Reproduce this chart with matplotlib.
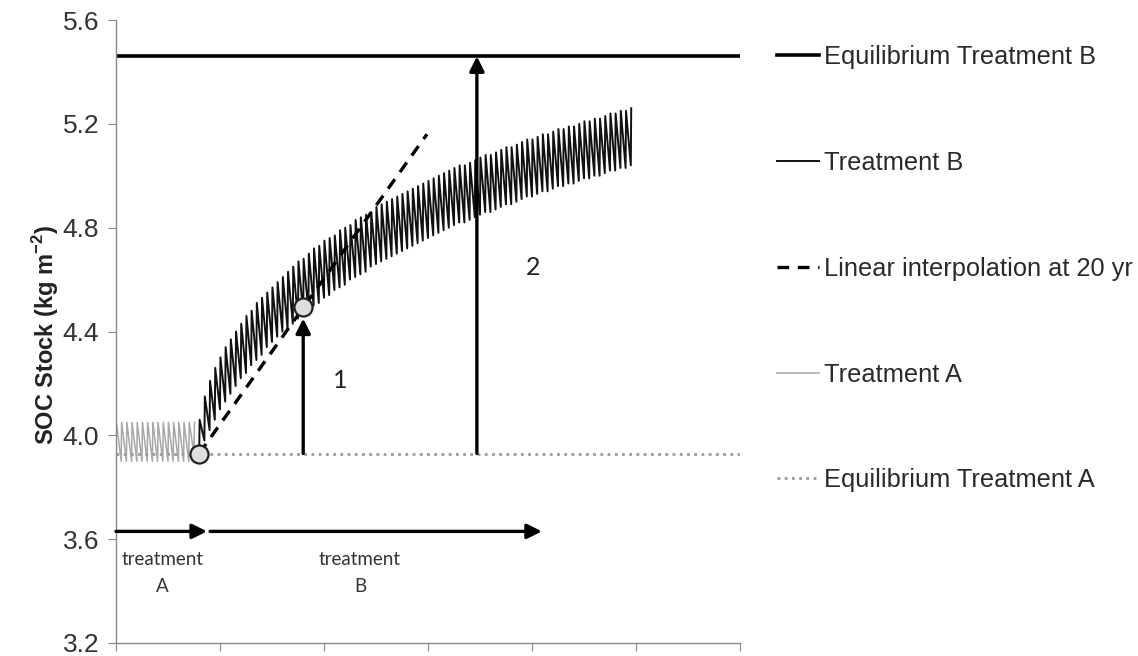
import numpy as np
import matplotlib.pyplot as plt

plt.rcParams["font.family"] = ["Liberation Sans", "DejaVu Sans"]
plt.rcParams["mathtext.fontset"] = "custom"
plt.rcParams["mathtext.bf"] = "Liberation Sans:bold"
plt.rcParams["mathtext.rm"] = "Liberation Sans"

# Treatment A: annual peaks / troughs (years 0..15)
years_a = np.arange(0, 16)
trt_a_peak = [4.05, 4.05, 4.05, 4.05, 4.05, 4.05, 4.05, 4.05,
              4.05, 4.05, 4.05, 4.05, 4.05, 4.05, 4.05, 4.05]
trt_a_trough = [3.90, 3.90, 3.90, 3.90, 3.90, 3.90, 3.90, 3.90,
                3.90, 3.90, 3.90, 3.90, 3.90, 3.90, 3.90, 3.93]

# Treatment B: annual peaks / troughs (years 16..99)
years_b = np.arange(16, 100)
trt_b_peak = [
    4.06, 4.15, 4.21, 4.26, 4.30, 4.34, 4.37, 4.40, 4.43, 4.46,
    4.48, 4.51, 4.53, 4.55, 4.57, 4.59, 4.61, 4.63, 4.65, 4.67,
    4.68, 4.70, 4.72, 4.73, 4.75, 4.76, 4.77, 4.79, 4.80, 4.81,
    4.83, 4.84, 4.85, 4.86, 4.88, 4.89, 4.90, 4.91, 4.92, 4.93,
    4.94, 4.95, 4.96, 4.97, 4.98, 4.99, 5.00, 5.01, 5.02, 5.03,
    5.04, 5.04, 5.05, 5.06, 5.07, 5.08, 5.08, 5.09, 5.10, 5.11,
    5.11, 5.12, 5.13, 5.14, 5.14, 5.15, 5.16, 5.16, 5.17, 5.18,
    5.18, 5.19, 5.19, 5.20, 5.21, 5.21, 5.22, 5.22, 5.23, 5.24,
    5.24, 5.25, 5.25, 5.26,
]
trt_b_trough = [
    3.93, 3.98, 4.02, 4.06, 4.10, 4.13, 4.16, 4.19, 4.22, 4.24,
    4.27, 4.29, 4.31, 4.34, 4.36, 4.38, 4.40, 4.41, 4.43, 4.45,
    4.47, 4.48, 4.50, 4.51, 4.53, 4.54, 4.56, 4.57, 4.58, 4.60,
    4.61, 4.62, 4.63, 4.65, 4.66, 4.67, 4.68, 4.69, 4.70, 4.71,
    4.72, 4.73, 4.74, 4.75, 4.76, 4.77, 4.78, 4.79, 4.80, 4.81,
    4.82, 4.82, 4.83, 4.84, 4.85, 4.86, 4.86, 4.87, 4.88, 4.89,
    4.89, 4.90, 4.91, 4.92, 4.92, 4.93, 4.94, 4.94, 4.95, 4.96,
    4.96, 4.97, 4.97, 4.98, 4.99, 4.99, 5.00, 5.00, 5.01, 5.02,
    5.02, 5.03, 5.03, 5.04,
]

eq_a = 3.93
eq_b = 5.46
interp_years = [16, 59.8]
interp_values = [3.93, 5.16]
point_years = [16, 36]
point_values = [3.93, 4.495]
arrow_years = [36, 69.4]
arrow_tops = [4.45, 5.46]
arrow_labels = ["1", "2"]
arrow_label_pos = [(43.1, 4.21), (80.2, 4.645)]
phase_starts = [0, 18.1]
phase_ends = [17.5, 81.9]
phase_labels = ["treatment\nA", "treatment\nB"]
phase_label_x = [9.0, 46.9]
legend_order = ["Equilibrium Treatment B", "Treatment B",
                "Linear interpolation at 20 yr", "Treatment A",
                "Equilibrium Treatment A"]


def sawtooth(years, peaks, troughs, rise=0.08):
    xs, ys = [], []
    for t, p, tr in zip(years, peaks, troughs):
        xs += [t, t + rise]
        ys += [tr, p]
    return np.array(xs), np.array(ys)


fig = plt.figure(figsize=(11.38, 6.56), dpi=100)
ax = fig.add_axes([116 / 1138, 1 - 643 / 656, 624 / 1138, 623 / 656])

xa, ya = sawtooth(years_a, trt_a_peak, trt_a_trough)
xb, yb = sawtooth(years_b, trt_b_peak, trt_b_trough)

h_eqb, = ax.plot([0, 120], [eq_b, eq_b], color="black", lw=2.6,
                 label=legend_order[0])
h_b, = ax.plot(xb, yb, color="#111111", lw=1.4, label=legend_order[1])
h_lin, = ax.plot(interp_years, interp_values, color="black", lw=2.4,
                 dashes=(3.5, 2.6), label=legend_order[2])
h_a, = ax.plot(xa, ya, color="#a8a8a8", lw=1.1, label=legend_order[3])
h_eqa, = ax.plot([0, 120], [eq_a, eq_a], color="#9a9a9a", lw=2.0,
                 linestyle=(0, (1, 1.6)), label=legend_order[4])

ax.plot(point_years, point_values, "o", ms=13, mfc="#dedede",
        mec="#222222", mew=1.6, zorder=6)

for yr, top in zip(arrow_years, arrow_tops):
    ax.annotate("", xy=(yr, top), xytext=(yr, eq_a),
                arrowprops=dict(arrowstyle="-|>", lw=2.4, color="black",
                                mutation_scale=22, shrinkA=0, shrinkB=0),
                zorder=5)
for lab, (lx, ly) in zip(arrow_labels, arrow_label_pos):
    ax.text(lx, ly, lab, fontsize=18, family="Lato", color="#222222",
            ha="center", va="center")

for x0, x1, lab, tx in zip(phase_starts, phase_ends, phase_labels, phase_label_x):
    ax.annotate("", xy=(x1, 3.63), xytext=(x0, 3.63),
                arrowprops=dict(arrowstyle="-|>", lw=2.4, color="black",
                                mutation_scale=22, shrinkA=0, shrinkB=0))
    ax.text(tx, 3.555, lab, fontsize=13.5, family="Lato", color="#333333",
            ha="center", va="top", linespacing=1.75)

ax.set_xlim(0, 120)
ax.set_ylim(3.2, 5.6)
ax.set_xticks(np.arange(0, 121, 20))
ax.set_xticklabels([])
yticks = np.arange(3.2, 5.61, 0.4)
ax.set_yticks(yticks)
ax.set_yticklabels([f"{v:.1f}" for v in yticks])
ax.tick_params(axis="y", labelsize=19, colors="#888888", labelcolor="#333333",
               length=6, pad=6)
ax.tick_params(axis="x", colors="#888888", length=6)
for side in ["top", "right"]:
    ax.spines[side].set_visible(False)
for side in ["left", "bottom"]:
    ax.spines[side].set_color("#888888")
    ax.spines[side].set_linewidth(1.0)

fig.text(46 / 1138, 1 - 335 / 656, r"SOC Stock (kg m$^{\mathbf{-2}}$)",
         rotation=90, fontsize=17, fontweight="bold", color="#222222",
         ha="center", va="center")

fig.legend([h_eqb, h_b, h_lin, h_a, h_eqa], legend_order,
           loc="upper left", bbox_to_anchor=(777 / 1138, 1 - 45 / 656),
           frameon=False, fontsize=18.3, labelspacing=3.22, handlelength=1.65,
           handletextpad=0.2, borderpad=0, borderaxespad=0,
           labelcolor="#2a2a2a")

fig.savefig("out.png", dpi=100)
